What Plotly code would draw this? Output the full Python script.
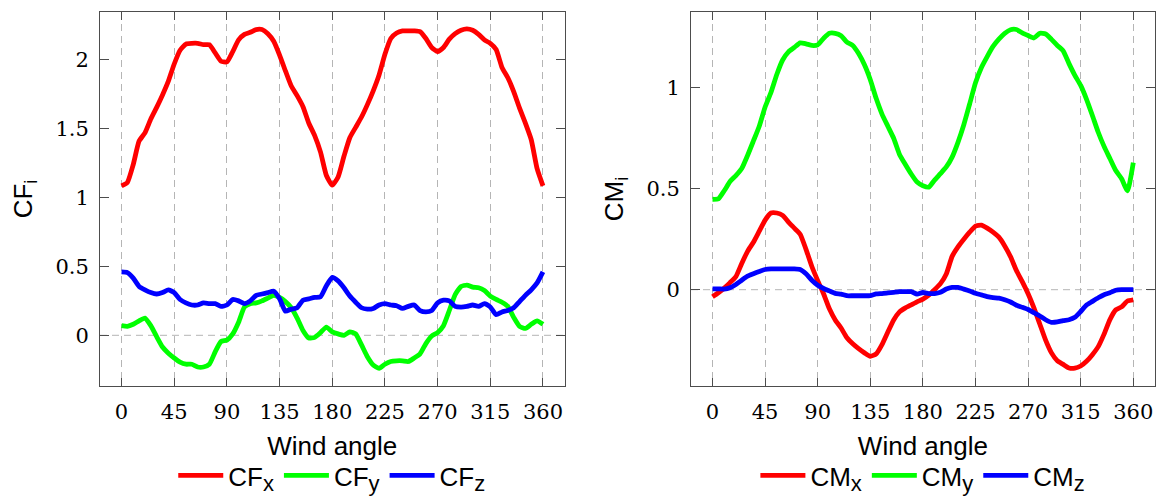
import plotly.graph_objects as go

# ---------------- data ----------------
angles = list(range(0, 361, 5))

cf_x = [1.085, 1.11, 1.24, 1.41, 1.47, 1.57, 1.655, 1.745, 1.845, 1.97,
        2.07, 2.115, 2.12, 2.12, 2.11, 2.11, 2.05, 1.99, 1.985, 2.06,
        2.145, 2.185, 2.20, 2.22, 2.22, 2.19, 2.135, 2.035, 1.92, 1.81,
        1.74, 1.66, 1.54, 1.45, 1.33, 1.16, 1.09, 1.15, 1.30, 1.435,
        1.51, 1.585, 1.675, 1.775, 1.89, 2.04, 2.155, 2.195, 2.21, 2.21,
        2.21, 2.205, 2.155, 2.09, 2.06, 2.09, 2.15, 2.19, 2.215, 2.225,
        2.215, 2.185, 2.145, 2.12, 2.075, 1.945, 1.87, 1.77, 1.65, 1.54,
        1.42, 1.21, 1.085]

cf_y = [0.07, 0.065, 0.08, 0.105, 0.125, 0.07, -0.01, -0.085, -0.13, -0.165,
        -0.195, -0.21, -0.21, -0.23, -0.23, -0.21, -0.12, -0.045, -0.035, 0.01,
        0.095, 0.205, 0.23, 0.235, 0.25, 0.27, 0.29, 0.275, 0.245, 0.20,
        0.125, 0.035, -0.02, -0.015, 0.02, 0.06, 0.025, 0.01, 0.0, 0.025,
        0.01, -0.07, -0.155, -0.215, -0.24, -0.21, -0.19, -0.185, -0.185, -0.19,
        -0.165, -0.135, -0.06, -0.005, 0.02, 0.07, 0.18, 0.295, 0.355, 0.365,
        0.35, 0.345, 0.325, 0.285, 0.26, 0.24, 0.21, 0.13, 0.065, 0.05,
        0.08, 0.105, 0.08]

cf_z = [0.46, 0.455, 0.415, 0.355, 0.33, 0.31, 0.30, 0.31, 0.33, 0.31,
        0.26, 0.235, 0.22, 0.22, 0.235, 0.23, 0.23, 0.21, 0.22, 0.26,
        0.25, 0.23, 0.25, 0.29, 0.30, 0.31, 0.32, 0.265, 0.175, 0.19,
        0.20, 0.255, 0.265, 0.275, 0.28, 0.36, 0.42, 0.395, 0.345, 0.285,
        0.24, 0.20, 0.19, 0.195, 0.22, 0.23, 0.22, 0.215, 0.195, 0.21,
        0.22, 0.18, 0.17, 0.18, 0.235, 0.255, 0.25, 0.21, 0.205, 0.21,
        0.22, 0.21, 0.23, 0.205, 0.15, 0.17, 0.18, 0.20, 0.245, 0.29,
        0.33, 0.38, 0.46]

cm_x = [-0.035, -0.015, 0.008, 0.035, 0.065, 0.13, 0.19, 0.235, 0.29, 0.345,
        0.38, 0.38, 0.368, 0.335, 0.305, 0.275, 0.20, 0.115, 0.045, -0.02,
        -0.095, -0.15, -0.19, -0.238, -0.268, -0.292, -0.313, -0.33, -0.318, -0.272,
        -0.21, -0.15, -0.11, -0.09, -0.075, -0.06, -0.047, -0.027, 0.0, 0.03,
        0.078, 0.165, 0.212, 0.25, 0.285, 0.315, 0.32, 0.305, 0.285, 0.26,
        0.217, 0.163, 0.095, 0.04, -0.02, -0.09, -0.17, -0.25, -0.313, -0.352,
        -0.37, -0.388, -0.389, -0.378, -0.355, -0.322, -0.282, -0.22, -0.148, -0.10,
        -0.085, -0.056, -0.05]

cm_y = [0.448, 0.45, 0.49, 0.536, 0.565, 0.60, 0.665, 0.737, 0.81, 0.905,
        0.977, 1.066, 1.138, 1.178, 1.20, 1.223, 1.218, 1.21, 1.213, 1.245,
        1.27, 1.27, 1.258, 1.226, 1.21, 1.17, 1.114, 1.04, 0.948, 0.87,
        0.81, 0.75, 0.67, 0.62, 0.573, 0.533, 0.515, 0.508, 0.543, 0.575,
        0.608, 0.657, 0.73, 0.817, 0.92, 1.025, 1.10, 1.155, 1.205, 1.241,
        1.27, 1.288, 1.289, 1.272, 1.259, 1.247, 1.27, 1.267, 1.24, 1.21,
        1.183, 1.12, 1.062, 1.012, 0.943, 0.863, 0.78, 0.71, 0.65, 0.59,
        0.55, 0.49, 0.63]

cm_z = [0.004, 0.004, 0.003, 0.01, 0.026, 0.047, 0.067, 0.079, 0.09, 0.10,
        0.103, 0.103, 0.103, 0.103, 0.103, 0.10, 0.079, 0.047, 0.022, 0.006,
        -0.006, -0.018, -0.022, -0.03, -0.03, -0.03, -0.03, -0.029, -0.021, -0.019,
        -0.016, -0.013, -0.01, -0.01, -0.01, -0.022, -0.014, -0.019, -0.019, -0.013,
        0.003, 0.011, 0.011, 0.003, -0.006, -0.018, -0.026, -0.034, -0.039, -0.042,
        -0.05, -0.061, -0.077, -0.087, -0.098, -0.114, -0.13, -0.149, -0.162, -0.16,
        -0.153, -0.149, -0.137, -0.108, -0.076, -0.058, -0.04, -0.025, -0.015, -0.003,
        0.0, 0.0, 0.0]

x_ticks = [0, 45, 90, 135, 180, 225, 270, 315, 360]
cf_ticks = [0, 0.5, 1, 1.5, 2]
cf_tick_text = ["0", "0.5", "1", "1.5", "2"]
cm_ticks = [0, 0.5, 1]
cm_tick_text = ["0", "0.5", "1"]

SUB = '<sub><span style="font-size:22px">{}</span></sub>'
cf_names = ["CF" + SUB.format(s) for s in ("x", "y", "z")]
cm_names = ["CM" + SUB.format(s) for s in ("x", "y", "z")]

# ---------------- style ----------------
W, H = 1157, 499
COLORS = ["#ff0000", "#00ff00", "#0000ff"]
AXC = "#4d4d4d"
GRIDC = "#b5b5b5"
SERIF = "DejaVu Serif"
SANS = "Liberation Sans"

left_dom = [100 / W, 564.5 / W]
right_dom = [691 / W, 1154.8 / W]
y_dom = [(H - 396.7) / H, (H - 12.7) / H]

fig = go.Figure()
for name, ys, col in zip(cf_names, [cf_x, cf_y, cf_z], COLORS):
    fig.add_trace(go.Scatter(x=angles, y=ys, mode="lines", name=name,
                             line=dict(color=col, width=4.8, shape="spline", smoothing=0.5),
                             xaxis="x", yaxis="y", legend="legend", hoverinfo="skip"))
for name, ys, col in zip(cm_names, [cm_x, cm_y, cm_z], COLORS):
    fig.add_trace(go.Scatter(x=angles, y=ys, mode="lines", name=name,
                             line=dict(color=col, width=4.8, shape="spline", smoothing=0.5),
                             xaxis="x2", yaxis="y2", legend="legend2", hoverinfo="skip"))


def xaxis(domain, anchor):
    return dict(domain=domain, anchor=anchor, range=[-18.4, 378.4],
                tickmode="array", tickvals=x_ticks, ticktext=[str(v) for v in x_ticks],
                showline=True, linecolor=AXC, linewidth=1, mirror="ticks",
                ticks="inside", ticklen=8, tickcolor=AXC, tickwidth=1,
                showgrid=True, gridcolor=GRIDC, gridwidth=1, griddash="7px,5px",
                zeroline=False, automargin=False, fixedrange=True,
                tickfont=dict(family=SERIF, size=21, color="black"),
                ticklabelstandoff=7,
                title=dict(text="Wind angle", standoff=14,
                           font=dict(family=SANS, size=26, color="black")))


def yaxis(domain, anchor, rng, tv, tt, title):
    return dict(domain=domain, anchor=anchor, range=rng,
                tickmode="array", tickvals=tv, ticktext=tt,
                showline=True, linecolor=AXC, linewidth=1, mirror="ticks",
                ticks="inside", ticklen=9, tickcolor=AXC, tickwidth=1,
                showgrid=False, zeroline=False, automargin=False, fixedrange=True,
                tickfont=dict(family=SERIF, size=21, color="black"),
                ticklabelstandoff=6,
                title=dict(text=title, standoff=15,
                           font=dict(family=SANS, size=26, color="black")))


def legend(xc):
    return dict(orientation="h", x=xc, xanchor="center", y=0.068, yanchor="top",
                font=dict(family=SANS, size=26, color="black"), itemwidth=45,
                bgcolor="rgba(0,0,0,0)", borderwidth=0, itemclick=False,
                itemdoubleclick=False)


fig.update_layout(
    width=W, height=H, margin=dict(l=0, r=0, t=0, b=0),
    paper_bgcolor="white", plot_bgcolor="white",
    xaxis=xaxis(left_dom, "y"),
    yaxis=yaxis(y_dom, "x", [-0.365, 2.345], cf_ticks, cf_tick_text, "CF<sub>i</sub>"),
    xaxis2=xaxis(right_dom, "y2"),
    yaxis2=yaxis(y_dom, "x2", [-0.475, 1.374], cm_ticks, cm_tick_text, "CM<sub>i</sub>"),
    legend=legend(sum(left_dom) / 2),
    legend2=legend(sum(right_dom) / 2),
    showlegend=True,
)

# dashed reference line at zero in each panel
for xr, yr in [("x domain", "y"), ("x2 domain", "y2")]:
    fig.add_shape(type="line", xref=xr, yref=yr, x0=0, x1=1, y0=0, y1=0,
                  line=dict(color=GRIDC, width=1, dash="7px,5px"), layer="below")

fig.write_html("out.html")
